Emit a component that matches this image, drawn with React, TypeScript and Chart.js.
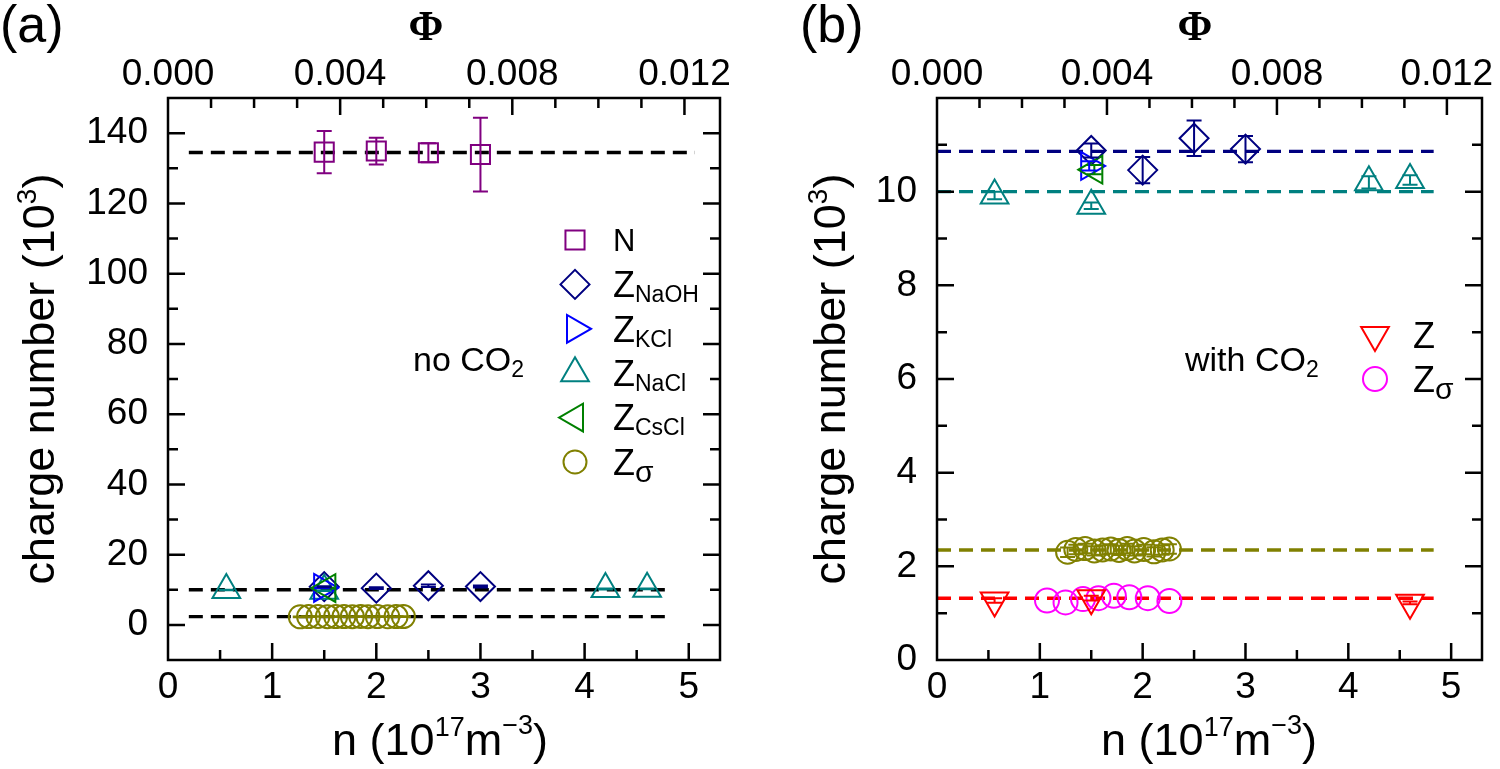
import React, { useEffect, useRef } from "react";
import { Chart, registerables } from "chart.js";
import { drawPoint } from "chart.js/helpers";

Chart.register(...registerables);

// ================= DATA =================
// volume fraction per number density (Φ per 10^17 m^-3)
const PHI_PER_N = 0.00242;
const N_AXIS_MAX = 5.3;
const N_TICK_STEP = 1;
const N_MINOR_STEP = 0.5;
const PHI_TICK_STEP = 0.004;
const PHI_MINOR_STEP = 0.001;

// panel (a) y axis
const A_Y_MIN = -10;
const A_Y_MAX = 150;
const A_Y_LABELS = [0, 20, 40, 60, 80, 100, 120, 140];
// panel (b) y axis
const B_Y_MIN = 0;
const B_Y_MAX = 12;
const B_Y_LABELS = [0, 2, 4, 6, 8, 10];

// N (number of titratable groups), 10^3
const nN = [1.5, 2.0, 2.5, 3.0];
const valN = [134.6, 134.9, 134.4, 133.9];
const errN = [6.0, 3.8, 2.7, 10.5];

// Z from NaOH titration
const nNaOH = [1.5, 2.0, 2.5, 3.0];
const valNaOH = [10.88, 10.46, 11.14, 10.91];
const errNaOH = [0.15, 0.28, 0.38, 0.28];

// Z from KCl
const nKCl = [1.48];
const valKCl = [10.55];
const errKCl = [0.1];

// Z from NaCl
const nNaCl = [0.56, 1.5, 4.2, 4.6];
const valNaCl = [9.92, 9.7, 10.2, 10.25];
const errNaCl = [0.08, 0.07, 0.13, 0.1];

// Z from CsCl
const nCsCl = [1.53];
const valCsCl = [10.47];
const errCsCl = [0.1];

// Z_sigma (no CO2)
const nSigma = [1.27, 1.35, 1.44, 1.53, 1.61, 1.69, 1.77, 1.85, 1.92, 2.01, 2.11, 2.19, 2.26];
const valSigma = [2.3, 2.36, 2.38, 2.33, 2.35, 2.37, 2.34, 2.38, 2.33, 2.36, 2.31, 2.35, 2.37];
const errSigma = [0.1, 0.1, 0.1, 0.1, 0.1, 0.1, 0.1, 0.1, 0.1, 0.1, 0.1, 0.1, 0.1];

// Z with CO2
const nZco2 = [0.56, 1.5, 4.6];
const valZco2 = [1.27, 1.32, 1.22];
const errZco2 = [0.05, 0.05, 0.03];

// Z_sigma with CO2
const nSigmaCo2 = [1.07, 1.25, 1.42, 1.57, 1.72, 1.87, 2.05, 2.26];
const valSigmaCo2 = [1.27, 1.23, 1.3, 1.32, 1.37, 1.34, 1.32, 1.26];

// mean value lines
const LEVEL_N = 134.5;
const LEVEL_NAOH = 10.86;
const LEVEL_NACL = 10.0;
const LEVEL_SIGMA = 2.35;
const LEVEL_ZCO2 = 1.32;
const A_LINE_X = [0.2, 4.83];
const A_NLINE_X = [0.2, 5.06];
const B_LINE_X = [0.0, 4.83];

// ================= STYLE =================
const SANS = '"Liberation Sans", Arial, sans-serif';
const SERIF = '"Liberation Serif", "Times New Roman", serif';
const C_N = "#800080";
const C_NAOH = "#000080";
const C_KCL = "#0000FF";
const C_NACL = "#008080";
const C_CSCL = "#008000";
const C_SIGMA = "#808000";
const C_ZCO2 = "#FF0000";
const C_SIGCO2 = "#FF00FF";
const TRANSPARENT = "rgba(0,0,0,0)";
const CAP = 7.5;
const MAJ = 17;
const MIN = 10;
const PAGE_H = 769;

type Part = { t: string; s: number; dy?: number; f?: string; b?: boolean };

function fontOf(p: Part) {
  return `${p.b ? "bold " : ""}${p.s}px ${p.f || SANS}`;
}
function richWidth(ctx: CanvasRenderingContext2D, parts: Part[]) {
  let w = 0;
  for (const p of parts) {
    ctx.font = fontOf(p);
    w += ctx.measureText(p.t).width;
  }
  return w;
}
function drawRich(ctx: CanvasRenderingContext2D, parts: Part[], x: number, y: number, align: "left" | "center") {
  const w = richWidth(ctx, parts);
  let cx = align === "center" ? x - w / 2 : x;
  ctx.textAlign = "left";
  ctx.textBaseline = "alphabetic";
  for (const p of parts) {
    ctx.font = fontOf(p);
    ctx.fillText(p.t, cx, y + (p.dy || 0));
    cx += ctx.measureText(p.t).width;
  }
}

const pts = (xs: number[], ys: number[]) => xs.map((x, i) => ({ x, y: ys[i] }));

type MarkerStyle = { style: string; radius: number; rotation: number };
const M_SQUARE: MarkerStyle = { style: "rect", radius: 13.5, rotation: 0 };
const M_DIAMOND: MarkerStyle = { style: "rectRot", radius: 14.5, rotation: 0 };
const M_TRI_RIGHT: MarkerStyle = { style: "triangle", radius: 16, rotation: 90 };
const M_TRI_UP: MarkerStyle = { style: "triangle", radius: 16, rotation: 0 };
const M_TRI_LEFT: MarkerStyle = { style: "triangle", radius: 16, rotation: 270 };
const M_TRI_DOWN: MarkerStyle = { style: "triangle", radius: 16, rotation: 180 };
const M_CIRCLE: MarkerStyle = { style: "circle", radius: 11.5, rotation: 0 };

function markerDs(xs: number[], ys: number[], errs: number[] | null, color: string, m: MarkerStyle) {
  return {
    data: pts(xs, ys),
    errors: errs,
    showLine: false,
    pointStyle: m.style,
    pointRadius: m.radius,
    pointHoverRadius: m.radius,
    pointRotation: m.rotation,
    pointBorderColor: color,
    pointBackgroundColor: TRANSPARENT,
    pointBorderWidth: 2,
    borderColor: color,
    backgroundColor: TRANSPARENT,
  };
}

function lineDs(level: number, xr: number[], color: string) {
  return {
    data: [
      { x: xr[0], y: level },
      { x: xr[1], y: level },
    ],
    showLine: true,
    borderColor: color,
    borderWidth: 3.4,
    borderDash: [14, 8],
    pointRadius: 0,
    pointHoverRadius: 0,
    fill: false,
  };
}

type LegendRow = { parts: Part[]; color: string; m: MarkerStyle };

type PanelCfg = {
  canvasLeft: number;
  canvasWidth: number;
  area: { left: number; right: number; top: number; bottom: number };
  yMin: number;
  yMax: number;
  yStep: number;
  yMinor: number;
  yLabels: number[];
  tag: string;
  tagX: number;
  phiX: number;
  yTitleX: number;
  xTitleX: number;
  legendX: number;
  legendTextX: number;
  legendY0: number;
  legendStep: number;
  legend: LegendRow[];
  noteParts: Part[];
  noteX: number;
  datasets: any[];
};

const zParts = (sub: string): Part[] => [
  { t: "Z", s: 36 },
  { t: sub, s: 23, dy: 5 },
];
const sigmaParts: Part[] = [
  { t: "Z", s: 36 },
  { t: "σ", s: 30, dy: 7 },
];

const PANEL_A: PanelCfg = {
  canvasLeft: 0,
  canvasWidth: 760,
  area: { left: 168, right: 720, top: 98, bottom: 660 },
  yMin: A_Y_MIN,
  yMax: A_Y_MAX,
  yStep: 10,
  yMinor: 10,
  yLabels: A_Y_LABELS,
  tag: "(a)",
  tagX: 0,
  phiX: 426,
  yTitleX: 54,
  xTitleX: 440,
  legendX: 575,
  legendTextX: 613,
  legendY0: 240,
  legendStep: 44.4,
  legend: [
    { parts: [{ t: "N", s: 31 }], color: C_N, m: M_SQUARE },
    { parts: zParts("NaOH"), color: C_NAOH, m: M_DIAMOND },
    { parts: zParts("KCl"), color: C_KCL, m: M_TRI_RIGHT },
    { parts: zParts("NaCl"), color: C_NACL, m: M_TRI_UP },
    { parts: zParts("CsCl"), color: C_CSCL, m: M_TRI_LEFT },
    { parts: sigmaParts, color: C_SIGMA, m: M_CIRCLE },
  ],
  noteParts: [
    { t: "no CO", s: 34 },
    { t: "2", s: 23, dy: 6 },
  ],
  noteX: 413,
  datasets: [
    markerDs(nCsCl, valCsCl, errCsCl, C_CSCL, M_TRI_LEFT),
    markerDs(nKCl, valKCl, errKCl, C_KCL, M_TRI_RIGHT),
    markerDs(nNaCl, valNaCl, errNaCl, C_NACL, M_TRI_UP),
    markerDs(nNaOH, valNaOH, errNaOH, C_NAOH, M_DIAMOND),
    markerDs(nN, valN, errN, C_N, M_SQUARE),
    markerDs(nSigma, valSigma, errSigma, C_SIGMA, M_CIRCLE),
    lineDs(LEVEL_N, A_NLINE_X, "#000"),
    lineDs(LEVEL_NACL, A_LINE_X, "#000"),
    lineDs(LEVEL_SIGMA, A_LINE_X, "#000"),
  ],
};

const PANEL_B: PanelCfg = {
  canvasLeft: 760,
  canvasWidth: 740,
  area: { left: 937, right: 1488, top: 98, bottom: 660 },
  yMin: B_Y_MIN,
  yMax: B_Y_MAX,
  yStep: 2,
  yMinor: 1,
  yLabels: B_Y_LABELS,
  tag: "(b)",
  tagX: 800,
  phiX: 1195,
  yTitleX: 845,
  xTitleX: 1209,
  legendX: 1375,
  legendTextX: 1413,
  legendY0: 335,
  legendStep: 44,
  legend: [
    { parts: [{ t: "Z", s: 36 }], color: C_ZCO2, m: M_TRI_DOWN },
    { parts: sigmaParts, color: C_SIGCO2, m: { ...M_CIRCLE, radius: 12 } },
  ],
  noteParts: [
    { t: "with CO", s: 34 },
    { t: "2", s: 23, dy: 6 },
  ],
  noteX: 1185,
  datasets: [
    markerDs(nCsCl, valCsCl, errCsCl, C_CSCL, M_TRI_LEFT),
    markerDs(nKCl, valKCl, errKCl, C_KCL, M_TRI_RIGHT),
    markerDs(nNaCl, valNaCl, errNaCl, C_NACL, M_TRI_UP),
    markerDs(nNaOH, valNaOH, errNaOH, C_NAOH, M_DIAMOND),
    markerDs(nZco2, valZco2, errZco2, C_ZCO2, M_TRI_DOWN),
    markerDs(nSigmaCo2, valSigmaCo2, null, C_SIGCO2, { ...M_CIRCLE, radius: 12 }),
    markerDs(nSigma, valSigma, errSigma, C_SIGMA, M_CIRCLE),
    lineDs(LEVEL_NAOH, B_LINE_X, C_NAOH),
    lineDs(LEVEL_NACL, B_LINE_X, C_NACL),
    lineDs(LEVEL_SIGMA, B_LINE_X, C_SIGMA),
    lineDs(LEVEL_ZCO2, B_LINE_X, C_ZCO2),
  ],
};

const errorBarPlugin = {
  id: "errbars",
  afterDatasetsDraw(chart: any) {
    const ctx = chart.ctx as CanvasRenderingContext2D;
    chart.data.datasets.forEach((ds: any, i: number) => {
      if (!ds.errors) return;
      const meta = chart.getDatasetMeta(i);
      const ys = chart.scales[meta.yAxisID];
      ctx.save();
      ctx.strokeStyle = ds.pointBorderColor;
      ctx.lineWidth = 2;
      meta.data.forEach((el: any, j: number) => {
        const e = ds.errors[j];
        if (!e) return;
        const v = ds.data[j].y;
        const yt = ys.getPixelForValue(v + e);
        const yb = ys.getPixelForValue(v - e);
        const x = el.x;
        ctx.beginPath();
        ctx.moveTo(x, yt);
        ctx.lineTo(x, yb);
        ctx.moveTo(x - CAP, yt);
        ctx.lineTo(x + CAP, yt);
        ctx.moveTo(x - CAP, yb);
        ctx.lineTo(x + CAP, yb);
        ctx.stroke();
      });
      ctx.restore();
    });
  },
};

function decorPlugin(p: PanelCfg) {
  return {
    id: "decor",
    afterDraw(chart: any) {
      const ctx = chart.ctx as CanvasRenderingContext2D;
      const a = chart.chartArea;
      const ox = p.canvasLeft;
      const X = chart.scales.x;
      const X2 = chart.scales.x2;
      const Y = chart.scales.y;
      ctx.save();
      ctx.strokeStyle = "#000";
      ctx.fillStyle = "#000";
      ctx.lineWidth = 2.5;
      // ticks
      ctx.beginPath();
      const nSteps = Math.floor(N_AXIS_MAX / N_MINOR_STEP + 1e-9);
      for (let k = 1; k <= nSteps; k++) {
        const v = k * N_MINOR_STEP;
        const px = X.getPixelForValue(v);
        const major = Math.abs(v / N_TICK_STEP - Math.round(v / N_TICK_STEP)) < 1e-6;
        ctx.moveTo(px, a.bottom);
        ctx.lineTo(px, a.bottom - (major ? MAJ : MIN));
      }
      const phiMax = N_AXIS_MAX * PHI_PER_N;
      const pSteps = Math.floor(phiMax / PHI_MINOR_STEP + 1e-9);
      for (let k = 1; k <= pSteps; k++) {
        const v = k * PHI_MINOR_STEP;
        const px = X2.getPixelForValue(v);
        const major = k % Math.round(PHI_TICK_STEP / PHI_MINOR_STEP) === 0;
        ctx.moveTo(px, a.top);
        ctx.lineTo(px, a.top + (major ? MAJ : MIN));
      }
      const ySteps = Math.round((p.yMax - p.yMin) / p.yMinor);
      for (let k = 1; k < ySteps; k++) {
        const v = p.yMin + k * p.yMinor;
        const py = Y.getPixelForValue(v);
        const major = p.yLabels.includes(Math.round(v * 1000) / 1000);
        const L = major ? MAJ : MIN;
        ctx.moveTo(a.left, py);
        ctx.lineTo(a.left + L, py);
        ctx.moveTo(a.right, py);
        ctx.lineTo(a.right - L, py);
      }
      ctx.stroke();
      // frame
      ctx.strokeRect(a.left, a.top, a.right - a.left, a.bottom - a.top);

      // panel tag
      drawRich(ctx, [{ t: p.tag, s: 52 }], p.tagX - ox, 42, "left");
      // Phi title
      drawRich(ctx, [{ t: "Φ", s: 42, f: SERIF, b: true }], p.phiX - ox, 40, "center");
      // x title
      drawRich(
        ctx,
        [
          { t: "n (10", s: 45 },
          { t: "17", s: 27, dy: -19 },
          { t: "m", s: 45 },
          { t: "−3", s: 27, dy: -21 },
          { t: ")", s: 45 },
        ],
        p.xTitleX - ox,
        755,
        "center"
      );
      // y title
      ctx.save();
      const cy = (a.top + a.bottom) / 2;
      ctx.translate(p.yTitleX - ox, cy);
      ctx.rotate(-Math.PI / 2);
      drawRich(
        ctx,
        [
          { t: "charge number (10", s: 45 },
          { t: "3", s: 28, dy: -18 },
          { t: ")", s: 45 },
        ],
        0,
        0,
        "center"
      );
      ctx.restore();

      // legend
      p.legend.forEach((row, i) => {
        const y = p.legendY0 + i * p.legendStep;
        ctx.save();
        ctx.strokeStyle = row.color;
        ctx.fillStyle = TRANSPARENT;
        ctx.lineWidth = 2;
        drawPoint(ctx, { pointStyle: row.m.style as any, radius: row.m.radius, rotation: row.m.rotation, borderWidth: 2 } as any, p.legendX - ox, y);
        ctx.restore();
        ctx.fillStyle = "#000";
        drawRich(ctx, row.parts, p.legendTextX - ox, y + row.parts[0].s * 0.358, "left");
      });
      // note
      drawRich(ctx, p.noteParts, p.noteX - ox, 371, "left");
      ctx.restore();
    },
  };
}

function buildConfig(p: PanelCfg): any {
  const tickFont = { family: SANS, size: 37 };
  const hidden = { display: false, drawTicks: false };
  return {
    type: "scatter",
    data: { datasets: p.datasets },
    options: {
      animation: false,
      responsive: false,
      devicePixelRatio: 1,
      events: [],
      layout: {
        padding: {
          left: 0,
          right: p.canvasLeft + p.canvasWidth - p.area.right,
          top: 0,
          bottom: 0,
        },
      },
      plugins: { legend: { display: false }, tooltip: { enabled: false } },
      scales: {
        x: {
          type: "linear",
          position: "bottom",
          min: 0,
          max: N_AXIS_MAX,
          grid: hidden,
          border: { display: false },
          ticks: {
            stepSize: N_TICK_STEP,
            includeBounds: false,
            autoSkip: false,
            maxRotation: 0,
            minRotation: 0,
            padding: 6,
            color: "#000",
            font: tickFont,
            callback: (v: number) => String(v),
          },
          afterFit: (s: any) => {
            s.height = PAGE_H - p.area.bottom;
          },
        },
        x2: {
          type: "linear",
          position: "top",
          min: 0,
          max: N_AXIS_MAX * PHI_PER_N,
          grid: hidden,
          border: { display: false },
          ticks: {
            stepSize: PHI_TICK_STEP,
            includeBounds: false,
            autoSkip: false,
            maxRotation: 0,
            minRotation: 0,
            padding: 1,
            color: "#000",
            font: tickFont,
            callback: (v: number) => v.toFixed(3),
          },
          afterFit: (s: any) => {
            s.height = p.area.top;
          },
        },
        y: {
          type: "linear",
          position: "left",
          min: p.yMin,
          max: p.yMax,
          grid: hidden,
          border: { display: false },
          ticks: {
            stepSize: p.yStep,
            includeBounds: false,
            autoSkip: false,
            padding: 20,
            color: "#000",
            font: tickFont,
            callback: (v: number) => {
              const r = Math.round(v * 1000) / 1000;
              return p.yLabels.includes(r) ? String(r) : "";
            },
          },
          afterFit: (s: any) => {
            s.width = p.area.left - p.canvasLeft;
          },
        },
      },
    },
    plugins: [errorBarPlugin, decorPlugin(p)],
  };
}

function Panel({ cfg }: { cfg: PanelCfg }) {
  const ref = useRef<HTMLCanvasElement | null>(null);
  useEffect(() => {
    if (!ref.current) return;
    const chart = new Chart(ref.current, buildConfig(cfg));
    return () => chart.destroy();
  }, [cfg]);
  return (
    <canvas
      ref={ref}
      width={cfg.canvasWidth}
      height={PAGE_H}
      style={{
        position: "absolute",
        left: cfg.canvasLeft,
        top: 0,
        width: cfg.canvasWidth,
        height: PAGE_H,
      }}
    />
  );
}

export default function App() {
  return (
    <div
      style={{
        position: "fixed",
        left: 0,
        top: 0,
        width: 1500,
        height: PAGE_H,
        background: "#fff",
        overflow: "hidden",
      }}
    >
      <Panel cfg={PANEL_A} />
      <Panel cfg={PANEL_B} />
    </div>
  );
}
